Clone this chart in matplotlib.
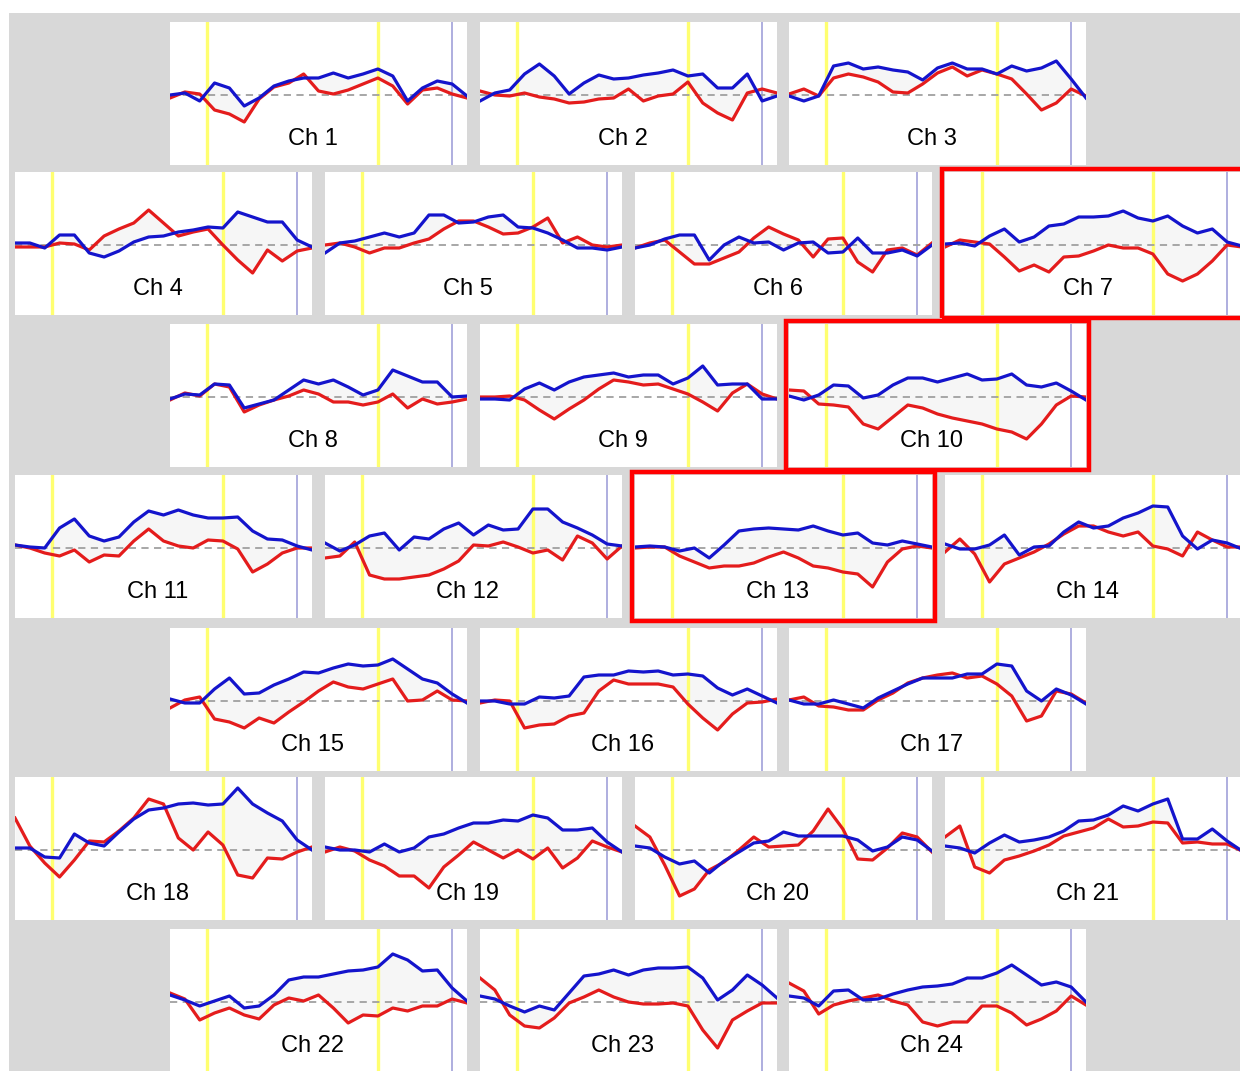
import numpy as np
import matplotlib
matplotlib.use("Agg")
import matplotlib.pyplot as plt
from matplotlib.patches import Rectangle

# time axis (s): 21 samples per trace, task onset at 0 s, offset at 23 s
t = np.arange(-5, 36, 2)
task_on, task_off, post_mark = 0, 23, 33

# traces per channel (arbitrary units, baseline = 0)
blue_ch1 = [0, 2, -6, 12, 7, -11, -3, 9, 14, 17, 17, 22, 17, 21, 26, 19, -6, 7, 14, 11, -1]
red_ch1 = [-3, 3, 1, -15, -19, -27, -4, 8, 12, 21, 4, 1, 5, 11, 17, 9, -9, 5, 7, 1, -3]
blue_ch2 = [-6, 2, 5, 21, 31, 19, 1, 12, 20, 16, 17, 20, 22, 25, 19, 21, 7, 7, 21, -6, -1]
red_ch2 = [4, 0, -1, 2, -2, -4, -8, -7, -4, -3, 6, -6, -1, 1, 13, -8, -18, -25, 2, 6, 2]
blue_ch3 = [-1, -6, -1, 29, 32, 26, 28, 25, 23, 15, 27, 32, 26, 26, 21, 29, 24, 27, 34, 16, -3]
red_ch3 = [1, 6, -1, 17, 21, 18, 13, 3, 2, 11, 22, 28, 19, 25, 21, 16, 1, -15, -8, 6, -1]
blue_ch4 = [2, 2, -3, 10, 10, -8, -12, -6, 3, 8, 9, 13, 15, 18, 17, 33, 28, 23, 23, 5, -2]
red_ch4 = [-2, -2, -2, 2, 1, -5, 9, 16, 22, 35, 22, 9, 13, 16, 0, -15, -28, -5, -16, -6, -3]
blue_ch5 = [-8, 2, 4, 8, 12, 8, 12, 30, 30, 22, 23, 28, 30, 18, 17, 12, 5, -3, -3, -5, -2]
red_ch5 = [0, 2, -2, -8, -3, -3, 2, 6, 16, 24, 24, 18, 11, 12, 18, 27, 2, 8, 0, -2, 0]
blue_ch6 = [-3, 0, 6, 10, 10, -15, 0, 8, 2, 3, -5, 2, 3, -8, -7, 7, -8, -8, -5, -11, 0]
red_ch6 = [-3, 2, 5, -7, -19, -19, -13, -7, 7, 18, 11, 5, -12, 6, 7, -17, -27, -5, -3, -10, 2]
blue_ch7 = [1, 2, -1, 9, 16, 3, 8, 19, 21, 28, 28, 29, 34, 27, 24, 29, 19, 12, 16, 3, -1]
red_ch7 = [-2, 5, 3, 1, -12, -26, -20, -27, -12, -11, -6, 0, -3, -3, -9, -29, -36, -29, -16, 0, -2]
blue_ch8 = [-2, 3, 2, 13, 12, -11, -7, -3, 7, 17, 13, 17, 10, 2, 7, 27, 21, 15, 15, 0, 1]
red_ch8 = [-3, 4, 1, 13, 10, -15, -8, -3, 1, 7, 3, -5, -5, -8, -5, 3, -11, -2, -7, -5, -2]
blue_ch9 = [-2, -2, -3, 8, 14, 7, 15, 20, 22, 24, 20, 22, 22, 13, 19, 31, 12, 13, 13, -2, -2]
red_ch9 = [0, 0, 1, -3, -13, -22, -12, -3, 8, 17, 15, 12, 13, 8, 3, -5, -14, 4, 13, 3, -2]
blue_ch10 = [1, -3, 2, 12, 11, -1, 2, 12, 19, 19, 15, 19, 23, 17, 18, 23, 12, 10, 14, 6, -3]
red_ch10 = [7, 6, -7, -8, -10, -27, -32, -20, -8, -11, -17, -21, -24, -27, -32, -35, -42, -27, -8, 1, 0]
blue_ch11 = [3, 1, 0, 20, 29, 12, 7, 11, 26, 37, 33, 38, 33, 30, 30, 31, 17, 9, 8, 2, -2]
red_ch11 = [3, 0, -5, -8, -2, -14, -7, -8, 7, 19, 7, 2, 0, 8, 7, -1, -24, -16, -5, 0, 0]
blue_ch12 = [5, -3, 3, 12, 15, -2, 11, 9, 19, 25, 13, 23, 18, 19, 39, 39, 26, 20, 13, 4, 2]
red_ch12 = [-10, -8, 6, -27, -31, -31, -29, -27, -21, -13, 3, 2, 6, 1, -5, -2, -12, 12, 5, -11, 2]
blue_ch13 = [1, 2, 1, -3, 0, -10, 3, 17, 19, 20, 19, 18, 22, 17, 13, 15, 5, 3, 7, 4, 1]
red_ch13 = [0, 1, 1, -8, -14, -20, -18, -18, -15, -9, -4, -10, -18, -20, -24, -26, -39, -14, -1, 2, 0]
blue_ch14 = [4, -1, -1, 3, 13, -7, 1, 2, 16, 26, 20, 22, 30, 35, 42, 41, 12, -1, 8, 5, -1]
red_ch14 = [-4, 9, -6, -34, -16, -10, -4, 4, 14, 22, 22, 16, 12, 16, 2, -1, -8, 16, 8, 1, 1]
blue_ch15 = [2, -2, -2, 12, 23, 7, 8, 16, 22, 29, 28, 33, 37, 35, 36, 42, 32, 22, 18, 7, -2]
red_ch15 = [-7, 1, 4, -18, -21, -27, -17, -22, -11, -1, 10, 19, 14, 12, 17, 22, 0, 1, 10, 1, 0]
blue_ch16 = [0, 0, -3, -3, 4, 3, 5, 24, 26, 26, 30, 29, 30, 26, 27, 25, 13, 6, 12, 5, -2]
red_ch16 = [-2, 1, 0, -27, -24, -23, -15, -12, 10, 21, 17, 17, 17, 14, -3, -17, -29, -13, -2, -1, 2]
blue_ch17 = [1, -3, -3, 1, -3, -7, 3, 10, 17, 23, 23, 23, 27, 27, 37, 35, 10, 0, 12, 6, -3]
red_ch17 = [1, 4, -5, -6, -9, -9, 1, 8, 18, 23, 26, 28, 23, 25, 17, 5, -20, -15, 10, 7, -2]
blue_ch18 = [2, 2, -7, -8, 16, 7, 4, 18, 31, 40, 42, 46, 47, 45, 46, 62, 46, 37, 29, 10, 0]
red_ch18 = [32, 4, -13, -27, -10, 9, 8, 19, 32, 51, 46, 12, 0, 18, 5, -25, -28, -8, -9, -2, 3]
blue_ch19 = [3, 0, 0, -2, 6, -2, 2, 13, 16, 22, 27, 27, 30, 29, 35, 32, 20, 20, 22, 8, -2]
red_ch19 = [-2, 3, -1, -10, -16, -26, -26, -38, -17, -5, 8, 0, -8, 0, -9, 2, -18, -8, 9, 3, -2]
blue_ch20 = [4, 2, -7, -14, -11, -23, -11, -2, 7, 9, 18, 14, 14, 14, 14, 10, -1, 3, 13, 10, -1]
red_ch20 = [24, 13, -15, -46, -39, -20, -12, 0, 13, 3, 4, 5, 19, 41, 21, -9, -10, 2, 17, 13, -2]
blue_ch21 = [4, 2, -3, 7, 15, 8, 10, 13, 19, 29, 30, 35, 44, 39, 46, 51, 11, 11, 21, 9, -1]
red_ch21 = [13, 24, -17, -23, -10, -6, -1, 5, 14, 18, 22, 31, 23, 24, 28, 27, 7, 8, 6, 6, -1]
blue_ch22 = [7, 2, -4, 1, 6, -6, -4, 7, 22, 25, 25, 28, 31, 32, 35, 48, 42, 31, 32, 14, 1]
red_ch22 = [9, 3, -18, -11, -6, -13, -17, -3, 4, 1, 7, -6, -21, -13, -14, -6, -9, -4, -4, 3, -1]
blue_ch23 = [6, 3, -4, -10, -4, -8, 9, 26, 28, 32, 27, 32, 34, 34, 35, 24, 2, 12, 27, 17, 4]
red_ch23 = [24, 12, -13, -24, -26, -16, -1, 5, 12, 5, 0, -2, -2, -1, -4, -28, -46, -18, -9, -1, -1]
blue_ch24 = [6, 4, -4, 11, 12, 2, 3, 8, 12, 15, 16, 18, 24, 24, 29, 37, 27, 17, 20, 15, 0]
red_ch24 = [19, 11, -12, -3, 1, 4, 7, 1, -3, -20, -24, -20, -20, -4, -4, -11, -23, -17, -9, 6, -3]

blues = [blue_ch1, blue_ch2, blue_ch3, blue_ch4, blue_ch5, blue_ch6, blue_ch7, blue_ch8,
         blue_ch9, blue_ch10, blue_ch11, blue_ch12, blue_ch13, blue_ch14, blue_ch15, blue_ch16,
         blue_ch17, blue_ch18, blue_ch19, blue_ch20, blue_ch21, blue_ch22, blue_ch23, blue_ch24]
reds = [red_ch1, red_ch2, red_ch3, red_ch4, red_ch5, red_ch6, red_ch7, red_ch8,
        red_ch9, red_ch10, red_ch11, red_ch12, red_ch13, red_ch14, red_ch15, red_ch16,
        red_ch17, red_ch18, red_ch19, red_ch20, red_ch21, red_ch22, red_ch23, red_ch24]
highlighted = [7, 10, 13]

# layout in pixels
W, H = 1240, 1071
row_tops = [22, 172, 324, 475, 628, 777, 929]
x3 = [170, 480, 789]
x4 = [15, 325, 635, 945]
pw, ph = 297, 143

fig = plt.figure(figsize=(W / 100, H / 100), dpi=100)
fig.patch.set_facecolor("white")
fig.patches.append(Rectangle((9 / W, 0), 1, 1 - 13 / H, transform=fig.transFigure,
                             facecolor="#d8d8d8", edgecolor="none", zorder=-5))

ch = 0
for r, top in enumerate(row_tops):
    lefts = x3 if r % 2 == 0 else x4
    for left in lefts:
        ax = fig.add_axes([left / W, 1 - (top + ph) / H, pw / W, ph / H])
        ax.set_facecolor("white")
        for s in ax.spines.values():
            s.set_visible(False)
        ax.set_xticks([])
        ax.set_yticks([])
        ax.set_xlim(-5, 35)
        ax.set_ylim(-70, 73)

        b = np.array(blues[ch])
        rd = np.array(reds[ch])
        ax.fill_between(t, b, rd, color="#f6f6f6", lw=0, zorder=1)
        ax.axvline(task_on, color="#ffff70", lw=2.4, zorder=2)
        ax.axvline(task_off, color="#ffff70", lw=2.4, zorder=2)
        ax.axvline(post_mark, color="#a8a8dc", lw=1.3, zorder=2)
        ax.axhline(0, color="#a0a0a0", lw=1.3, ls=(0, (4, 3)), zorder=2)
        ax.plot(t, b, color="#1414cc", lw=2.3, zorder=4)
        ax.plot(t, rd, color="#e41c1c", lw=2.3, zorder=3)
        ax.text(0.48, 0.18, f"Ch {ch + 1}", transform=ax.transAxes, ha="center",
                va="center", fontsize=17, family="Liberation Sans", zorder=5)

        if ch + 1 in highlighted:
            pad = 3
            fig.patches.append(Rectangle(((left - pad) / W, 1 - (top + ph + pad) / H),
                                         (pw + 2 * pad) / W, (ph + 2 * pad) / H,
                                         transform=fig.transFigure, fill=False,
                                         edgecolor="#ff0000", lw=3.2, zorder=10))
        ch += 1

fig.savefig("out.png", dpi=100)
